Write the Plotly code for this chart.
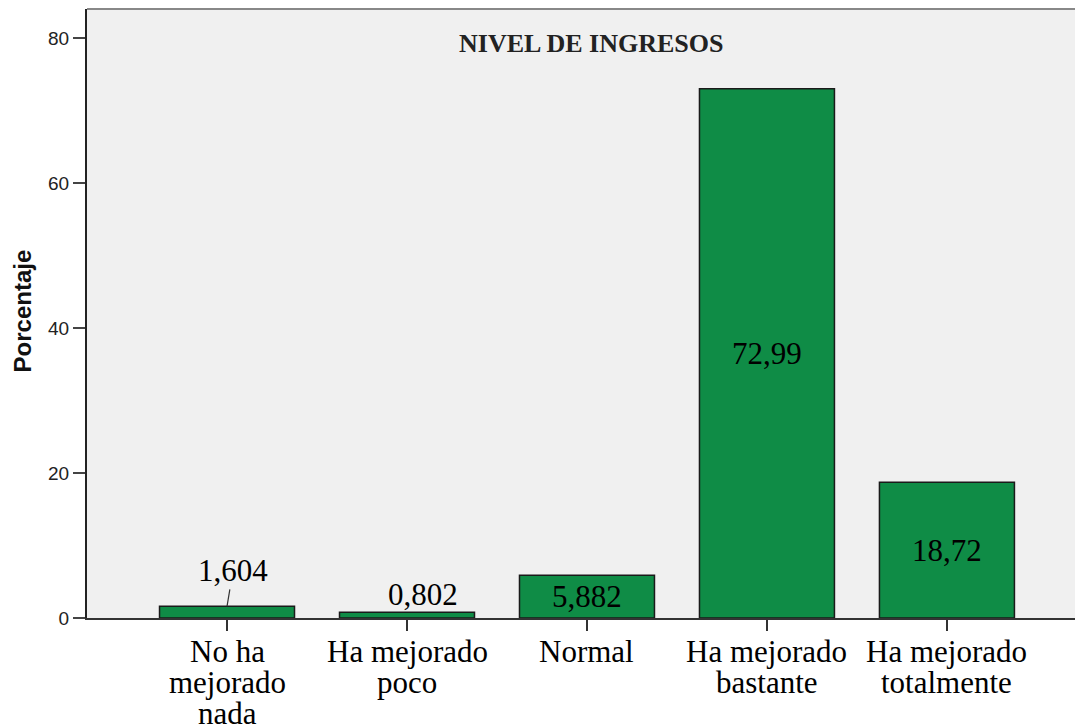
import plotly.graph_objects as go

# Data
categories = ["No ha<br>mejorado<br>nada", "Ha mejorado<br>poco", "Normal",
              "Ha mejorado<br>bastante", "Ha mejorado<br>totalmente"]
values = [1.604, 0.802, 5.882, 72.99, 18.72]
value_labels = ["1,604", "0,802", "5,882", "72,99", "18,72"]
y_ticks = [0, 20, 40, 60, 80]

serif = "Liberation Serif"
sans = "Liberation Sans"

fig = go.Figure()
fig.add_trace(go.Bar(
    x=list(range(len(categories))), y=values,
    width=0.75,
    marker=dict(color="#0F8C46", line=dict(color="#1a1a1a", width=1.5)),
    hoverinfo="skip",
))

annotations = []
# value labels: tiny bars get the label above, the rest in the middle of the bar
for i, (v, lab) in enumerate(zip(values, value_labels)):
    font = dict(family=serif, size=31, color="#000")
    if i == 0:
        annotations.append(dict(x=i, y=v, text=lab, showarrow=True, arrowhead=0,
                                arrowwidth=1.2, arrowcolor="#333", ax=6, ay=-36,
                                standoff=0, font=font))
    elif i == 1:
        annotations.append(dict(x=i, y=v, text=lab, showarrow=False,
                                xshift=16, yshift=18, font=font))
    else:
        annotations.append(dict(x=i, y=v / 2, text=lab, showarrow=False, font=font))

# category labels, one annotation per line for tight line spacing
for i, cat in enumerate(categories):
    for k, line in enumerate(cat.split("<br>")):
        annotations.append(dict(x=i, y=0, text=line, showarrow=False,
                                yanchor="middle", yshift=-(33 + 31 * k),
                                font=dict(family=serif, size=31, color="#000")))

annotations.append(dict(
    x=0.506, y=0.944, xref="paper", yref="paper", yanchor="middle",
    text="<b>NIVEL DE INGRESOS</b>", showarrow=False,
    font=dict(family=serif, size=26, color="#222"),
))
annotations.append(dict(
    x=-0.0653, y=0.505, xref="paper", yref="paper", xanchor="center", yanchor="middle",
    textangle=-90, text="<b>Porcentaje</b>", showarrow=False,
    font=dict(family=sans, size=24, color="#111"),
))

# page body has an 8px margin, so the figure is sized to fit the window
fig.update_layout(
    width=1075, height=719,
    margin=dict(l=79, r=0, t=1, b=109, autoexpand=False),
    paper_bgcolor="white", plot_bgcolor="#F0F0F0",
    showlegend=False,
    annotations=annotations,
    shapes=[dict(type="line", xref="paper", yref="paper", x0=0, x1=1, y0=1, y1=1,
                 line=dict(color="#888", width=2))],
    xaxis=dict(
        range=[-0.778, 4.756], automargin=False,
        tickvals=list(range(len(categories))), showticklabels=False,
        ticks="outside", ticklen=11, tickwidth=2, tickcolor="#333",
        showline=True, linecolor="#333", linewidth=2,
        showgrid=False, zeroline=False,
    ),
    yaxis=dict(
        range=[0, 84.0], automargin=False,
        tickvals=y_ticks,
        ticks="outside", ticklen=12, tickwidth=2, tickcolor="#444",
        showline=True, linecolor="#222", linewidth=2,
        showgrid=False, zeroline=False,
        tickfont=dict(family=sans, size=19, color="#222"),
    ),
)

fig.write_html("out.html")
